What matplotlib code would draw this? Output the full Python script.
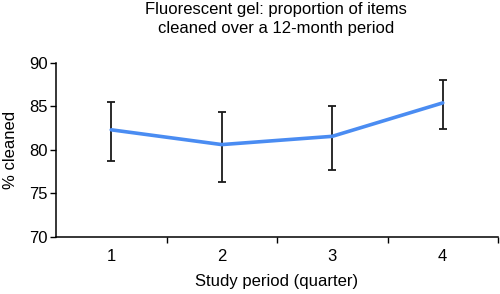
import matplotlib
matplotlib.use("Agg")
import matplotlib.pyplot as plt
import numpy as np

quarters = [1, 2, 3, 4]
pct_cleaned = [82.3, 80.6, 81.55, 85.4]
err_low = [3.6, 4.3, 3.85, 3.0]
err_high = [3.2, 3.75, 3.5, 2.6]

plt.rcParams['font.family'] = ['Liberation Sans', 'DejaVu Sans']

fig = plt.figure(figsize=(5, 2.94), dpi=100)
ax = fig.add_axes([0.112, 0.195, 0.884, 0.591])

ax.errorbar(quarters, pct_cleaned, yerr=[err_low, err_high], fmt='none',
            ecolor='#1a1a1a', elinewidth=1.3, capsize=3, capthick=1.3, zorder=2)
ax.plot(quarters, pct_cleaned, color='#4a8cf2', lw=2.6, solid_capstyle='round', zorder=3)

ax.set_xlim(0.5, 4.5)
ax.set_ylim(70, 90)
ax.set_yticks([70, 75, 80, 85, 90])
ax.set_xticks(quarters)
ax.set_xticks([1.5, 2.5, 3.5, 4.5], minor=True)
ax.tick_params(axis='x', which='major', length=0, pad=9, labelsize=12)
ax.tick_params(axis='x', which='minor', length=4, width=1, direction='out')
ax.tick_params(axis='y', length=4, width=1, direction='out', labelsize=12, pad=2)

for s in ['top', 'right']:
    ax.spines[s].set_visible(False)
for s in ['left', 'bottom']:
    ax.spines[s].set_linewidth(1.1)

ax.set_ylabel('% cleaned', fontsize=12, labelpad=8)
ax.set_xlabel('Study period (quarter)', fontsize=12, labelpad=7)
fig.text(0.552, 0.993, 'Fluorescent gel: proportion of items\ncleaned over a 12-month period',
         ha='center', va='top', fontsize=12, linespacing=1.35)

fig.savefig('out.png', dpi=100)
